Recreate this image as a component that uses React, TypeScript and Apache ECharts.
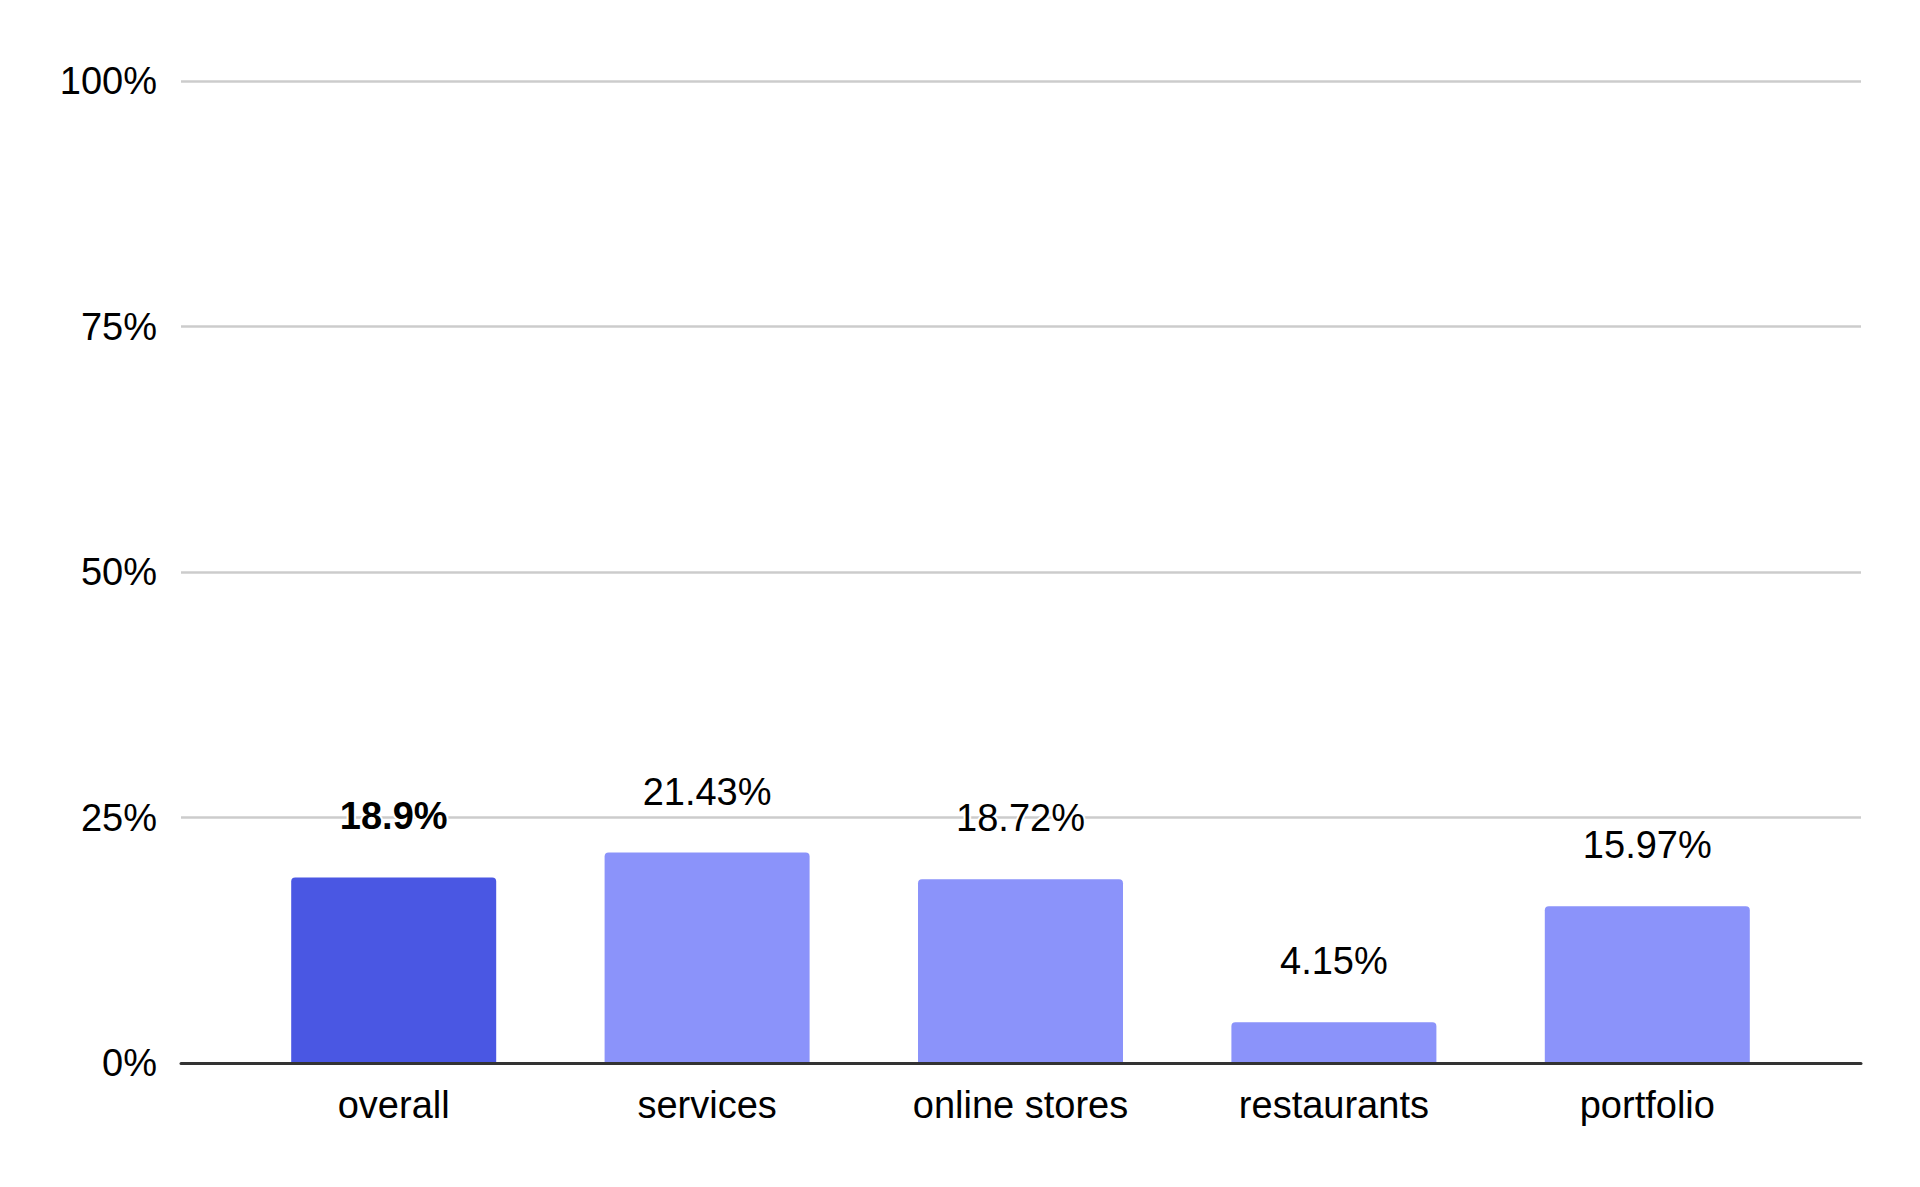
import React, { useEffect, useRef } from "react";
import * as echarts from "echarts";

const categories = ["overall", "services", "online stores", "restaurants", "portfolio"];
const values = [18.9, 21.43, 18.72, 4.15, 15.97];
const yTicks = [0, 25, 50, 75, 100];
const highlightIndex = 0;

const FONT = "Liberation Sans, Arial, sans-serif";
const FS = 38;

export default function App() {
  const ref = useRef<HTMLDivElement>(null);
  useEffect(() => {
    if (!ref.current) return;
    const chart = echarts.init(ref.current, undefined, { renderer: "svg" });
    const data = values.map((v, i) => ({
      value: v,
      itemStyle: { color: i === highlightIndex ? "#4A57E3" : "#8B93FA" },
      label: { fontWeight: i === highlightIndex ? "bold" : "normal" },
    }));
    chart.setOption({
      animation: false,
      backgroundColor: "#ffffff",
      grid: [
        { left: 181, right: 59, top: 81, bottom: 124 },
        { left: 237, right: 116, top: 81, bottom: 124 },
      ],
      xAxis: [
        {
          type: "category",
          gridIndex: 0,
          data: [""],
          z: 5,
          axisLine: { show: true, lineStyle: { color: "#333333", width: 3 } },
          axisTick: { show: false },
          axisLabel: { show: false },
          splitLine: { show: false },
        },
        {
          type: "category",
          gridIndex: 1,
          data: categories,
          axisLine: { show: false },
          axisTick: { show: false },
          axisLabel: {
            margin: 23,
            fontSize: FS,
            color: "#000000",
            fontFamily: FONT,
          },
        },
      ],
      yAxis: [
        {
          type: "value",
          gridIndex: 0,
          min: yTicks[0],
          max: yTicks[yTicks.length - 1],
          interval: 25,
          axisLine: { show: false },
          axisTick: { show: false },
          axisLabel: {
            formatter: "{value}%",
            margin: 24,
            fontSize: FS,
            color: "#000000",
            fontFamily: FONT,
          },
          splitLine: { show: true, lineStyle: { color: "#cccccc", width: 2.5 } },
        },
        {
          type: "value",
          gridIndex: 1,
          min: yTicks[0],
          max: yTicks[yTicks.length - 1],
          interval: 25,
          show: false,
          splitLine: { show: false },
        },
      ],
      series: [
        {
          type: "bar",
          xAxisIndex: 1,
          yAxisIndex: 1,
          barWidth: 205,
          data,
          itemStyle: { borderRadius: [4, 4, 0, 0] },
          label: {
            show: true,
            position: "top",
            distance: 42,
            formatter: "{c}%",
            fontSize: FS,
            color: "#000000",
            fontFamily: FONT,
            textBorderColor: "#ffffff",
            textBorderWidth: 4,
          },
        },
      ],
    });
    return () => chart.dispose();
  }, []);
  return (
    <div
      ref={ref}
      style={{ position: "fixed", left: 0, top: 0, width: 1920, height: 1187 }}
    />
  );
}
